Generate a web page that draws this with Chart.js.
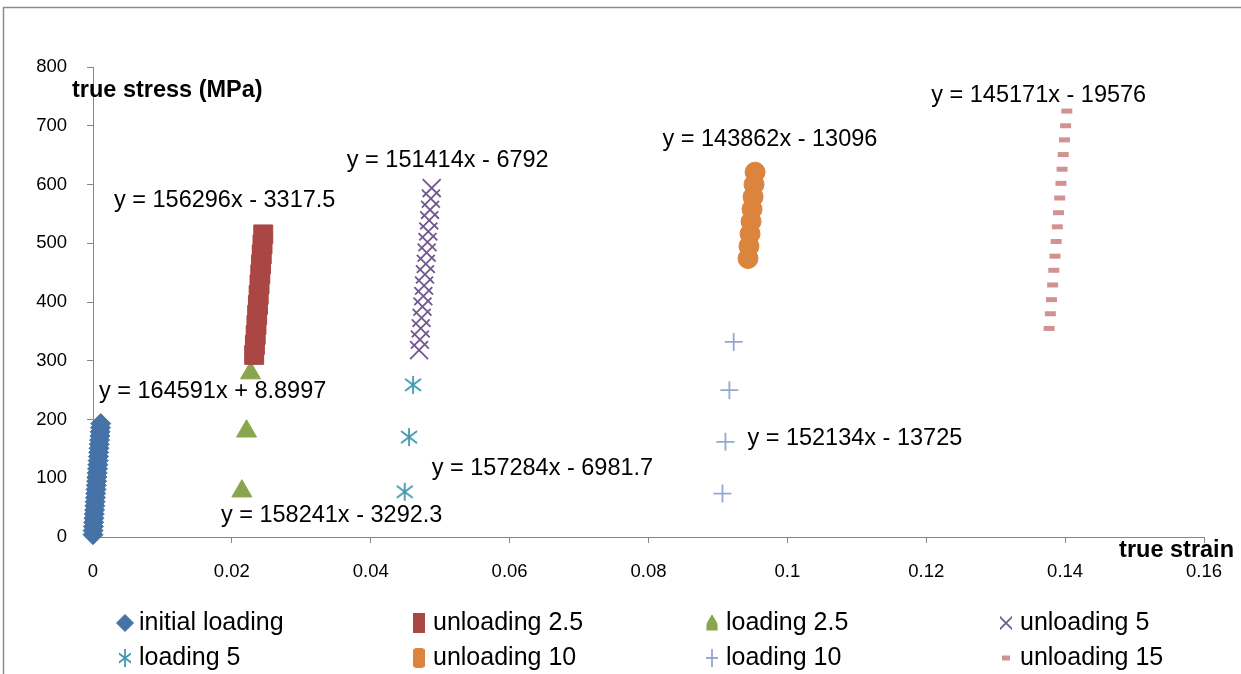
<!DOCTYPE html>
<html lang="en">
<head>
<meta charset="UTF-8">
<title>True stress - true strain, loading / unloading</title>
<script src="https://cdn.jsdelivr.net/npm/chart.js"></script>
<style>
    html, body { margin: 0; padding: 0; background: #fff; }
    .chart-box { position: relative; width: 1241px; height: 674px; }
</style>
</head>
<body>
<div class="chart-box"><canvas id="stressChart"></canvas></div>
<script>
// ---- data ----
const seriesNames = ['initial loading', 'unloading 2.5', 'loading 2.5', 'unloading 5',
                     'loading 5', 'unloading 10', 'loading 10', 'unloading 15'];

const initialStrain = [0.00000, 0.00001, 0.000055, 0.000098, 0.00014, 0.000183, 0.000225, 0.000268,
                       0.00031, 0.000353, 0.000396, 0.000438, 0.000481, 0.000523, 0.000566, 0.000608,
                       0.000651, 0.000693, 0.000736, 0.000778, 0.000821, 0.000863, 0.000906, 0.000948,
                       0.000991, 0.001033, 0.001076, 0.001119];
const initialStress = [4, 11, 18, 25, 32, 39, 46, 53, 60, 67, 74, 81, 88, 95, 102, 109,
                       116, 123, 130, 137, 144, 151, 158, 165, 172, 179, 186, 193];

const unload25Strain = [0.02321, 0.02332, 0.02343, 0.02354, 0.02364, 0.02375, 0.02386,
                        0.02398, 0.02409, 0.0242, 0.0243, 0.02441, 0.02452];
const unload25Stress = [310, 327, 344, 361, 378, 395, 412, 430, 447, 464, 481, 498, 515];

const load25Strain = [0.02144, 0.02211, 0.02269];
const load25Stress = [78, 180, 279];

const unload5Strain = [0.04696, 0.04708, 0.0472, 0.04732, 0.04745, 0.04757, 0.04768, 0.04781,
                       0.04793, 0.04805, 0.04817, 0.04829, 0.04842, 0.04854, 0.04866, 0.04878];
const unload5Stress = [318, 336, 355, 373, 392, 410, 428, 447, 465, 484, 502, 520, 539, 557, 576, 594];

const load5Strain = [0.04489, 0.04551, 0.04609];
const load5Stress = [77, 170, 259];

const unload10Strain = [0.09433, 0.09447, 0.09462, 0.09477, 0.09491, 0.09506, 0.0952, 0.09535];
const unload10Stress = [474, 495, 516, 537, 558, 579, 600, 621];

const load10Strain = [0.09065, 0.09108, 0.09165, 0.09227];
const load10Stress = [74, 162, 250, 332];

const unload15Strain = [0.1377, 0.13787, 0.13803, 0.1382, 0.13837, 0.13854, 0.13871, 0.13888,
                        0.13905, 0.13922, 0.1394, 0.13956, 0.13973, 0.1399, 0.14007, 0.14024];
const unload15Stress = [355, 380, 404, 429, 454, 478, 503, 528, 552, 577, 602, 626, 651, 676, 700, 725];

const equationTexts = ['y = 164591x + 8.8997', 'y = 156296x - 3317.5', 'y = 158241x - 3292.3',
                       'y = 151414x - 6792', 'y = 157284x - 6981.7', 'y = 143862x - 13096',
                       'y = 152134x - 13725', 'y = 145171x - 19576'];

const xTickLabels = ['0', '0.02', '0.04', '0.06', '0.08', '0.1', '0.12', '0.14', '0.16'];
const yTickLabels = ['0', '100', '200', '300', '400', '500', '600', '700', '800'];

// ---- look ----
const FONT = '"Liberation Sans", Arial, sans-serif';
const AXIS_GREY = '#868686';

// Excel's asterisk marker: vertical bar plus an X
function asteriskMarker(color) {
    const c = document.createElement('canvas');
    c.width = 20; c.height = 20;
    const g = c.getContext('2d');
    g.strokeStyle = color;
    g.lineWidth = 1.8;
    g.beginPath();
    g.moveTo(10, 1); g.lineTo(10, 19);
    g.moveTo(2, 4); g.lineTo(18, 16);
    g.moveTo(18, 4); g.lineTo(2, 16);
    g.stroke();
    return c;
}

function pts(xs, ys) {
    return xs.map((x, i) => ({ x: x, y: ys[i] }));
}

function series(i, xs, ys, color, style, radius, borderWidth) {
    return {
        label: seriesNames[i],
        data: pts(xs, ys),
        showLine: false,
        clip: false,
        pointStyle: style,
        pointRadius: radius,
        pointHoverRadius: radius,
        pointBorderWidth: borderWidth,
        backgroundColor: color,
        borderColor: color
    };
}

const datasets = [
    series(0, initialStrain, initialStress, '#4572A7', 'rectRot', 10, 1),
    series(1, unload25Strain, unload25Stress, '#AA4643', 'rect', 13.4, 1),
    series(2, load25Strain, load25Stress, '#89A54E', 'triangle', 11.5, 1),
    series(3, unload5Strain, unload5Stress, '#71588F', 'crossRot', 12.7, 1.8),
    series(4, load5Strain, load5Stress, '#4198AF', asteriskMarker('#4198AF'), 10, 1.8),
    series(5, unload10Strain, unload10Stress, '#DB843D', 'circle', 10, 1),
    series(6, load10Strain, load10Stress, '#93A9CF', 'cross', 9, 1.8),
    series(7, unload15Strain, unload15Stress, '#D19392', 'line', 5.5, 5)
];

// where each trendline equation sits (data units: left edge, vertical middle)
const labelSpots = [
    [0.00086, 248], [0.00302, 572], [0.01842, 37], [0.03655, 640],
    [0.04878, 117], [0.08201, 676], [0.09424, 168], [0.12072, 752]
];

// legend grid: 4 columns x 2 rows
const legendTextX = [139, 433, 726, 1020];
const legendRowY = [623, 658];

function drawMarker(ctx, ds, x, y, r, clipW, clipH) {
    ctx.save();
    ctx.beginPath();
    ctx.rect(x - clipW / 2, y - clipH / 2, clipW, clipH);
    ctx.clip();
    ctx.fillStyle = ds.backgroundColor;
    ctx.strokeStyle = ds.borderColor;
    ctx.lineWidth = ds.pointBorderWidth;
    Chart.helpers.drawPoint(ctx, {
        pointStyle: ds.pointStyle, radius: r,
        borderWidth: ds.pointBorderWidth, rotation: 0
    }, x, y);
    ctx.restore();
}

const extras = {
    id: 'extras',
    beforeDraw(chart) {
        const ctx = chart.ctx;
        ctx.save();
        ctx.strokeStyle = '#8c8c8c';
        ctx.lineWidth = 1.5;
        ctx.beginPath();
        ctx.moveTo(3.5, chart.height);
        ctx.lineTo(3.5, 7.5);
        ctx.lineTo(chart.width, 7.5);
        ctx.stroke();
        ctx.restore();
    },
    afterDraw(chart) {
        const ctx = chart.ctx;
        const xs = chart.scales.x, ys = chart.scales.y;
        const area = chart.chartArea;
        ctx.save();
        ctx.fillStyle = '#000';
        ctx.textBaseline = 'middle';

        // axis titles
        ctx.font = 'bold 23.5px ' + FONT;
        ctx.textAlign = 'left';
        ctx.fillText('true stress (MPa)', area.left - 21, area.top + 24);
        ctx.textAlign = 'right';
        ctx.fillText('true strain', area.right + 30, area.bottom + 14);

        // trendline equations
        ctx.font = '23.5px ' + FONT;
        ctx.textAlign = 'left';
        equationTexts.forEach((t, i) => {
            const px = xs.getPixelForValue(labelSpots[i][0]);
            const py = ys.getPixelForValue(labelSpots[i][1]);
            ctx.fillText(t, px, py);
        });

        // legend
        ctx.font = '25px ' + FONT;
        chart.data.datasets.forEach((ds, i) => {
            const col = i % 4, row = Math.floor(i / 4);
            const tx = legendTextX[col], ty = legendRowY[row];
            let r = ds.pointRadius, cw = 12, ch = 20, cy = ty;
            if (ds.pointStyle === 'rectRot') { r = 8.5; cw = 20; }
            if (ds.pointStyle === 'triangle') { r = 10; cw = 11; ch = 26; cy = ty + 2; }
            if (ds.pointStyle === 'line') cw = 8;
            drawMarker(ctx, ds, tx - 14, cy, r, cw, ch);
            ctx.fillStyle = '#000';
            ctx.fillText(ds.label, tx, ty);
        });
        ctx.restore();
    }
};

const tickFont = { family: FONT, size: 18.5 };

const stressChart = new Chart(document.getElementById('stressChart'), {
    type: 'scatter',
    data: { datasets: datasets },
    options: {
        responsive: true,
        maintainAspectRatio: false,
        animation: false,
        layout: { padding: { left: 0, top: 67, right: 37, bottom: 0 } },
        plugins: {
            legend: { display: false },
            tooltip: { enabled: false }
        },
        scales: {
            x: {
                type: 'linear',
                min: 0, max: 0.16,
                afterFit(scale) { scale.height = 137; },
                ticks: {
                    stepSize: 0.02, padding: 18, color: '#000', font: tickFont,
                    maxRotation: 0, autoSkip: false,
                    callback: (v, i) => xTickLabels[i] ?? String(v)
                },
                grid: { drawOnChartArea: false, tickLength: 6, color: AXIS_GREY },
                border: { color: AXIS_GREY, width: 1 }
            },
            y: {
                type: 'linear',
                min: 0, max: 800,
                afterFit(scale) { scale.width = 93; },
                ticks: {
                    stepSize: 100, padding: 20, color: '#000', font: tickFont,
                    callback: (v, i) => yTickLabels[i] ?? String(v)
                },
                grid: { drawOnChartArea: false, tickLength: 6, color: AXIS_GREY },
                border: { color: AXIS_GREY, width: 1 }
            }
        }
    },
    plugins: [extras]
});
</script>
</body>
</html>
